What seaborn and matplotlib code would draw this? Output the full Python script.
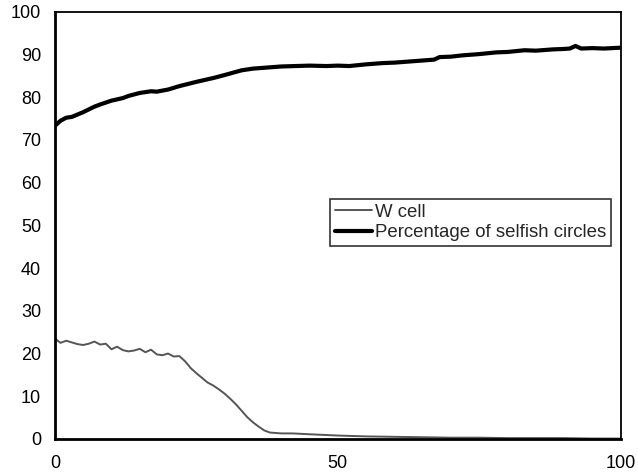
import matplotlib
matplotlib.use("Agg")
import matplotlib.pyplot as plt
import seaborn as sns
import pandas as pd

# Percentage of selfish circles
sel_x = [0, 1, 2, 3, 5, 7, 8, 10, 12, 13, 15, 17, 18, 20, 22, 25, 28, 30, 33, 35, 38, 40,
         45, 48, 50, 52, 55, 58, 60, 63, 65, 67, 68, 70, 72, 75, 78, 80, 83, 85, 88, 90, 91, 92, 93, 95, 97, 100]
sel_y = [73.3, 74.5, 75.2, 75.4, 76.5, 77.8, 78.3, 79.2, 79.8, 80.3, 81.0, 81.4, 81.3, 81.8, 82.6, 83.6, 84.5, 85.2, 86.3, 86.7, 87.0, 87.2,
         87.4, 87.3, 87.4, 87.3, 87.7, 88.0, 88.1, 88.4, 88.6, 88.8, 89.4, 89.5, 89.8, 90.1, 90.5, 90.6, 91.0, 90.9, 91.2, 91.3, 91.4, 92.0, 91.4, 91.5, 91.4, 91.6]

# W cell
w_x = [0, 1, 2, 3, 4, 5, 6, 7, 8, 9, 10, 11, 12, 13, 14, 15, 16, 17, 18, 19, 20, 21, 22,
       23, 24, 25, 26, 27, 28, 29, 30, 31, 32, 33, 34, 35, 36, 37, 38, 39, 40,
       42, 45, 50, 55, 60, 65, 70, 75, 80, 85, 90, 95, 100]
w_y = [23.5, 22.5, 23.0, 22.6, 22.2, 22.0, 22.3, 22.8, 22.1, 22.3, 21.0, 21.6, 20.8, 20.5, 20.7, 21.1, 20.3, 20.9, 19.8, 19.6, 20.0, 19.3, 19.4,
       18.2, 16.6, 15.4, 14.3, 13.2, 12.5, 11.6, 10.6, 9.4, 8.1, 6.6, 5.1, 3.9, 2.9, 2.0, 1.5, 1.4, 1.3,
       1.3, 1.1, 0.8, 0.6, 0.5, 0.4, 0.3, 0.3, 0.2, 0.2, 0.2, 0.1, 0.1]

x_ticks = list(range(0, 101, 10))
x_labels = ["0" if t == 0 else ("50" if t == 50 else ("100" if t == 100 else "")) for t in x_ticks]
y_ticks = list(range(0, 101, 10))

sns.set_style("white")
plt.rcParams['font.family'] = ['Liberation Sans', 'DejaVu Sans']

fig = plt.figure(figsize=(6.38, 4.72), dpi=100)
ax = fig.add_axes([0.086, 0.070, 0.887, 0.905])

df_w = pd.DataFrame({"x": w_x, "y": w_y})
df_s = pd.DataFrame({"x": sel_x, "y": sel_y})
sns.lineplot(data=df_w, x="x", y="y", ax=ax, color="#555555", linewidth=1.4, label="W cell")
sns.lineplot(data=df_s, x="x", y="y", ax=ax, color="black", linewidth=3.0, label="Percentage of selfish circles")

ax.set_xlim(0, 100)
ax.set_ylim(0, 100)
ax.set_xticks(x_ticks)
ax.set_xticklabels(x_labels)
ax.set_yticks(y_ticks)
ax.set_xlabel("")
ax.set_ylabel("")
ax.tick_params(axis="both", direction="inout", length=8, width=1.5, color="black",
               labelsize=13, labelcolor="black", pad=6)
ax.tick_params(axis="x", pad=7.5)
for s in ["left", "bottom"]:
    ax.spines[s].set_linewidth(2.0)
    ax.spines[s].set_color("black")
for s in ["top", "right"]:
    ax.spines[s].set_linewidth(1.3)
    ax.spines[s].set_color("black")

leg = ax.legend(loc="upper left", bbox_to_anchor=(0.486, 0.562), frameon=True, fancybox=False,
                edgecolor="black", handlelength=2.0, handletextpad=0.2, borderpad=0.25,
                labelspacing=0.2, fontsize=13.4, borderaxespad=0)
leg.get_frame().set_linewidth(1.2)

fig.savefig("out.png", dpi=100)
